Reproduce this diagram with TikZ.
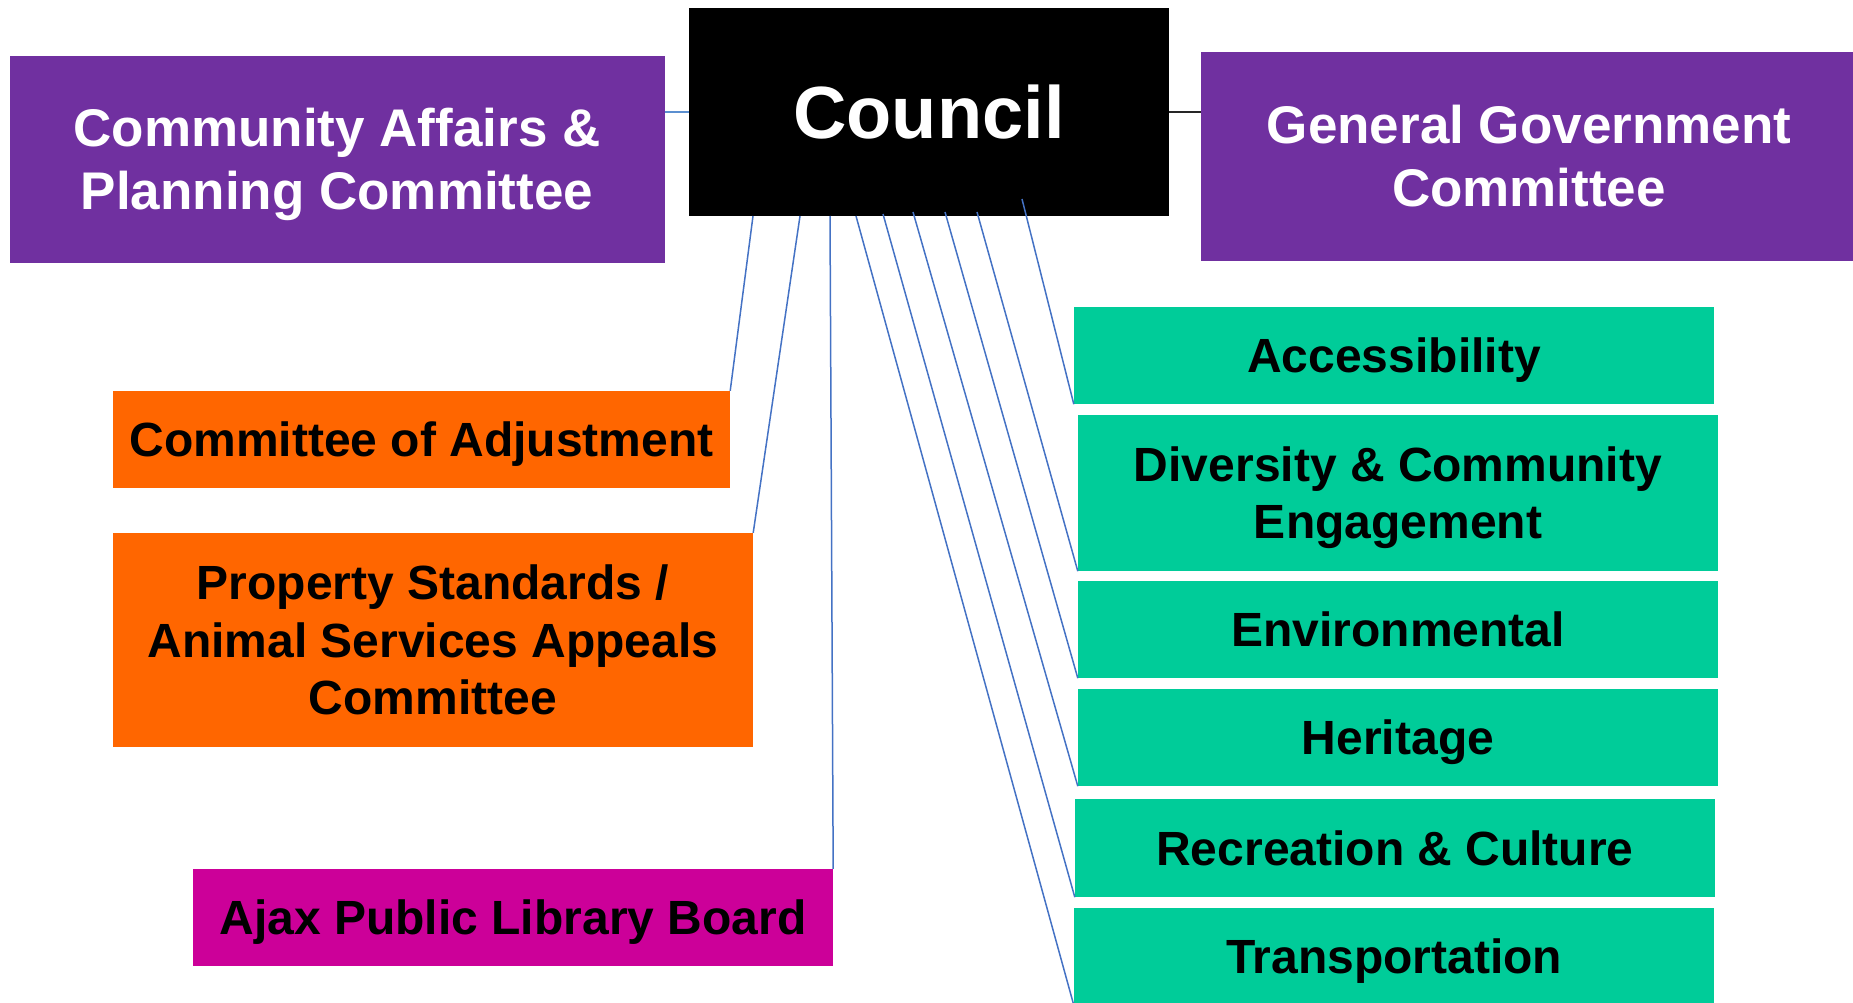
\documentclass[tikz,border=0pt]{standalone}
\usepackage{fontspec}
\setmainfont{Liberation Sans}
\definecolor{cpurple}{HTML}{7030A0}
\definecolor{corange}{HTML}{FF6600}
\definecolor{cgreen}{HTML}{00CC99}
\definecolor{cmagenta}{HTML}{CC0099}
\definecolor{clink}{HTML}{4472C4}
\definecolor{clight}{HTML}{5B8FD0}
\begin{document}
\begin{tikzpicture}[x=1pt,y=-1pt,
  box/.style={rectangle, inner sep=0pt, align=center, text depth=0pt},
  bigtxt/.style={font=\fontsize{53}{63}\selectfont\bfseries, text height=101pt, text=white},
  midtxt/.style={font=\fontsize{48}{57.5}\selectfont\bfseries, text height=34.4pt, text=black},
  link/.style={draw=clink, line width=1.5pt},
]
\useasboundingbox (0,0) rectangle (1853,1003);
\clip (0,0) rectangle (1853,1003);

% boxes
\node[box, fill=black, text=white, minimum width=480pt, minimum height=208pt,
      font=\fontsize{74}{88}\selectfont\bfseries, text height=53pt] (council) at (929,112) {Council};
\node[box, bigtxt, fill=cpurple, minimum width=655pt, minimum height=207pt] (cap) at (337,159.5)
  {Community Affairs \&\\Planning Committee};
\node[box, bigtxt, fill=cpurple, minimum width=656pt, minimum height=209pt] (gg) at (1529,156.5)
  {General Government\\Committee};

\node[box, midtxt, fill=corange, minimum width=617pt, minimum height=97pt] (coa) at (421.5,439.5)
  {Committee of Adjustment};
\node[box, midtxt, text height=149.4pt, fill=corange, minimum width=640pt, minimum height=214pt] (ps) at (433,640)
  {Property Standards /\\Animal Services Appeals\\Committee};
\node[box, midtxt, fill=cmagenta, minimum width=640pt, minimum height=97pt] (lib) at (513,917.5)
  {Ajax Public Library Board};

\node[box, midtxt, fill=cgreen, minimum width=640pt, minimum height=97pt] (acc) at (1394,355.5) {Accessibility};
\node[box, midtxt, text height=91.9pt, fill=cgreen, minimum width=640pt, minimum height=156pt] (div) at (1398,493)
  {Diversity \& Community\\Engagement};
\node[box, midtxt, fill=cgreen, minimum width=640pt, minimum height=97pt] (env) at (1398,629.5) {Environmental};
\node[box, midtxt, fill=cgreen, minimum width=640pt, minimum height=97pt] (her) at (1398,737.5) {Heritage};
\node[box, midtxt, fill=cgreen, minimum width=640pt, minimum height=98pt] (rec) at (1395,848) {Recreation \& Culture};
\node[box, midtxt, fill=cgreen, minimum width=640pt, minimum height=97pt] (tra) at (1394,956.5) {Transportation};

% connector start points on the Council box
\coordinate (s1) at (753,216);
\coordinate (s2) at (800,216);
\coordinate (s3) at (830,216);
\coordinate (s4) at (856,216);
\coordinate (s5) at (883,214);
\coordinate (s6) at (913,212);
\coordinate (s7) at (945,212);
\coordinate (s8) at (977,212);
\coordinate (s9) at (1022,199);

% horizontal connectors
\draw[draw=clight, line width=2.5pt] (council.west) -- (council.west -| cap.east);
\draw[draw=black!85, line width=2.5pt] (council.east) -- (council.east -| gg.west);

% fan connectors
\draw[link] (s1) -- (coa.north east);
\draw[link] (s2) -- (ps.north east);
\draw[link] (s3) -- (lib.north east);
\draw[link] (s4) -- (tra.south west);
\draw[link] (s5) -- (rec.south west);
\draw[link] (s6) -- (her.south west);
\draw[link] (s7) -- (env.south west);
\draw[link] (s8) -- (div.south west);
\draw[link] (s9) -- (acc.south west);
\end{tikzpicture}
\end{document}
